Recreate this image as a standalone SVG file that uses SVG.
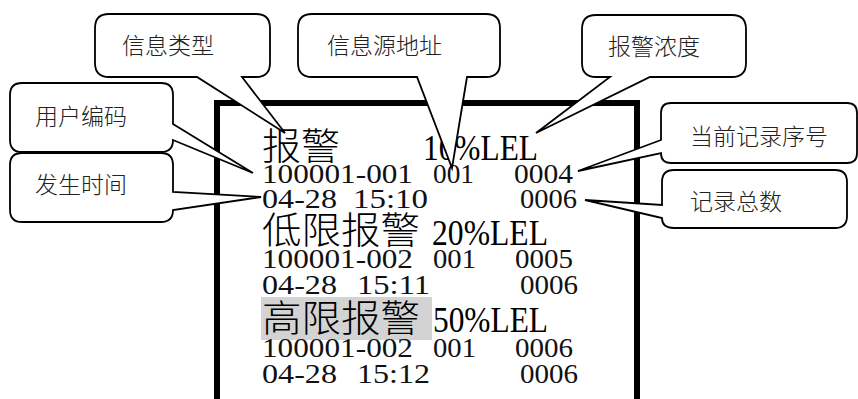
<svg xmlns="http://www.w3.org/2000/svg" width="858" height="399" viewBox="0 0 858 399">
<style>
.frame{fill:none;stroke:#000;stroke-width:6}
.co{fill:#fff;stroke:#000;stroke-width:1.8;stroke-linejoin:miter}
.lbl{font-family:"Noto Sans CJK SC",sans-serif;font-size:23px;font-weight:300;fill:#222}
.big{font-family:"Liberation Serif","Noto Sans CJK SC",serif;font-size:37px;font-weight:300;fill:#000}
.bl{font-family:"Liberation Serif",serif;font-size:35px;fill:#000}
.sm{font-family:"Liberation Serif",serif;font-size:26.5px;fill:#111}
</style>
<rect width="858" height="399" fill="#fff"/>
<g id="screen">
<rect class="frame" x="217" y="103" width="420" height="330"/>
<rect x="261" y="297" width="171" height="43" fill="#d3d3d3"/>
<g id="rec1">
<text class="big" x="262" y="160" textLength="78" lengthAdjust="spacingAndGlyphs">报警</text>
<text class="bl" x="423" y="160" textLength="115" lengthAdjust="spacingAndGlyphs">10%LEL</text>
<text class="sm" x="262" y="183" textLength="151" lengthAdjust="spacingAndGlyphs">100001-001</text>
<text class="sm" x="433" y="183" textLength="41" lengthAdjust="spacingAndGlyphs">001</text>
<text class="sm" x="514" y="183" textLength="59" lengthAdjust="spacingAndGlyphs">0004</text>
<text class="sm" x="262" y="208" textLength="75" lengthAdjust="spacingAndGlyphs">04-28</text>
<text class="sm" x="353" y="208" textLength="75" lengthAdjust="spacingAndGlyphs">15:10</text>
<text class="sm" x="520" y="208" textLength="57" lengthAdjust="spacingAndGlyphs">0006</text>
</g>
<g id="rec2">
<text class="big" x="262" y="244" textLength="158" lengthAdjust="spacingAndGlyphs">低限报警</text>
<text class="bl" x="432" y="245" textLength="116" lengthAdjust="spacingAndGlyphs">20%LEL</text>
<text class="sm" x="262" y="268" textLength="151" lengthAdjust="spacingAndGlyphs">100001-002</text>
<text class="sm" x="433" y="268" textLength="43" lengthAdjust="spacingAndGlyphs">001</text>
<text class="sm" x="515" y="268" textLength="58" lengthAdjust="spacingAndGlyphs">0005</text>
<text class="sm" x="262" y="294" textLength="75" lengthAdjust="spacingAndGlyphs">04-28</text>
<text class="sm" x="357" y="294" textLength="73" lengthAdjust="spacingAndGlyphs">15:11</text>
<text class="sm" x="520" y="294" textLength="58" lengthAdjust="spacingAndGlyphs">0006</text>
</g>
<g id="rec3">
<text class="big" x="262" y="332" textLength="158" lengthAdjust="spacingAndGlyphs">高限报警</text>
<text class="bl" x="433" y="332" textLength="115" lengthAdjust="spacingAndGlyphs">50%LEL</text>
<text class="sm" x="262" y="357" textLength="151" lengthAdjust="spacingAndGlyphs">100001-002</text>
<text class="sm" x="433" y="357" textLength="43" lengthAdjust="spacingAndGlyphs">001</text>
<text class="sm" x="515" y="357" textLength="58" lengthAdjust="spacingAndGlyphs">0006</text>
<text class="sm" x="262" y="383" textLength="75" lengthAdjust="spacingAndGlyphs">04-28</text>
<text class="sm" x="357" y="383" textLength="73" lengthAdjust="spacingAndGlyphs">15:12</text>
<text class="sm" x="520" y="383" textLength="58" lengthAdjust="spacingAndGlyphs">0006</text>
</g>
</g>
<g id="connectors"></g>
<g id="callout-type">
<path class="co" d="M109,14 H256 Q270,14 270,28 V63 Q270,77 256,77 H242 L285,133 L197,77 H109 Q95,77 95,63 V28 Q95,14 109,14 Z"/>
<text class="lbl" x="122" y="54">信息类型</text>
</g>
<g id="callout-source">
<path class="co" d="M312,14 H486 Q500,14 500,28 V63 Q500,77 486,77 H467 L452,168 L417,77 H312 Q298,77 298,63 V28 Q298,14 312,14 Z"/>
<text class="lbl" x="327" y="54">信息源地址</text>
</g>
<g id="callout-conc">
<path class="co" d="M596,15 H732 Q746,15 746,29 V63 Q746,77 732,77 H650 L536,133 L610,77 H596 Q582,77 582,63 V29 Q582,15 596,15 Z"/>
<text class="lbl" x="608" y="55">报警浓度</text>
</g>
<g id="callout-user">
<path class="co" d="M22,83 H161 Q173,83 173,95 V124 L253,173 L173,140 Q173,152 161,152 H22 Q10,152 10,140 V95 Q10,83 22,83 Z"/>
<text class="lbl" x="35" y="125">用户编码</text>
</g>
<g id="callout-time">
<path class="co" d="M22,153 H161 Q173,153 173,165 V192 L261,197 L173,210 Q173,222 161,222 H22 Q10,222 10,210 V165 Q10,153 22,153 Z"/>
<text class="lbl" x="35" y="193">发生时间</text>
</g>
<g id="callout-index">
<path class="co" d="M671,103 H847 Q857,103 857,113 V153 Q857,163 847,163 H671 Q661,163 661,153 L578,171 L661,140 V113 Q661,103 671,103 Z"/>
<text class="lbl" x="690" y="145">当前记录序号</text>
</g>
<g id="callout-total">
<path class="co" d="M674,170 H835 Q847,170 847,182 V216 Q847,228 835,228 H674 Q662,228 662,218 L585,200 L662,205 V182 Q662,170 674,170 Z"/>
<text class="lbl" x="690" y="210">记录总数</text>
</g>
</svg>
